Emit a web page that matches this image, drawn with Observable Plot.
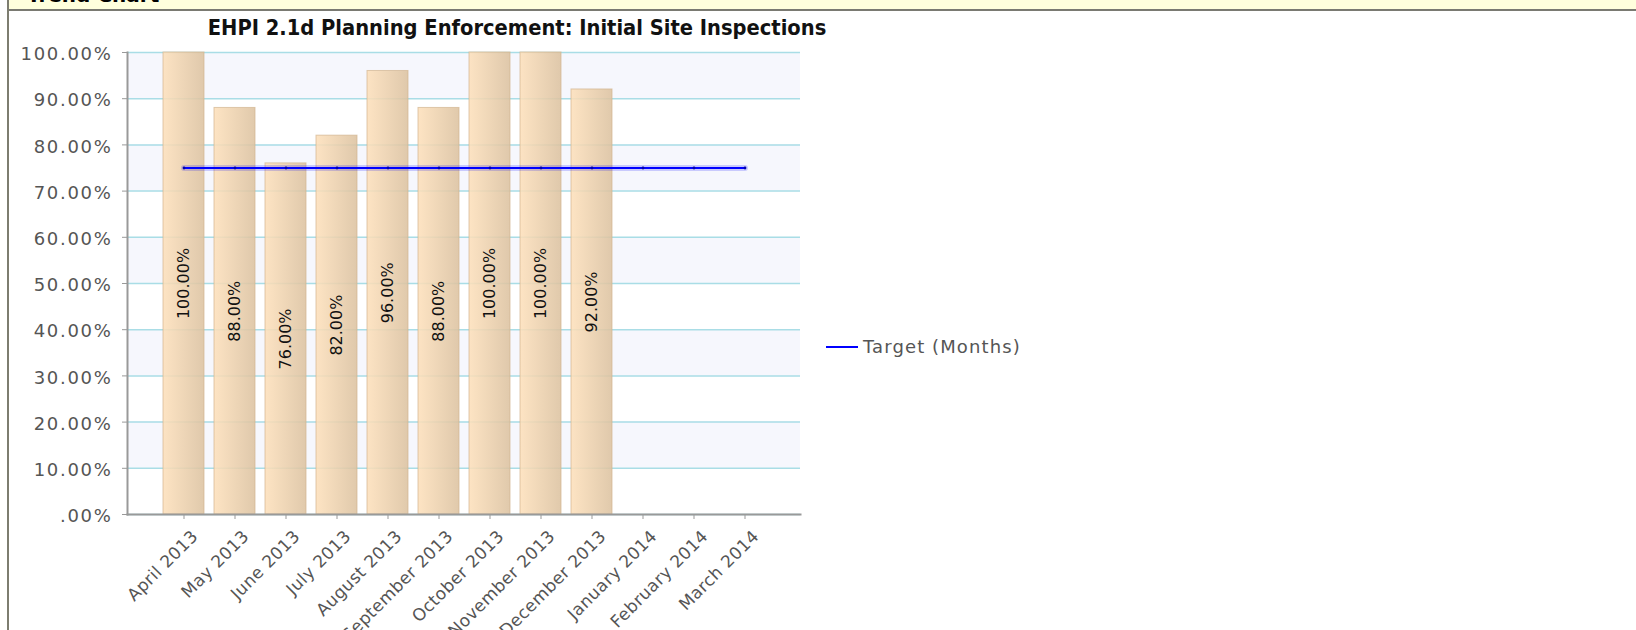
<!DOCTYPE html>
<html>
<head>
<meta charset="utf-8">
<script src="https://cdn.jsdelivr.net/npm/d3@7"></script>
<script src="https://cdn.jsdelivr.net/npm/@observablehq/plot@0.6"></script>
<style>
  html, body { margin: 0; padding: 0; background: #fff; }
  body { width: 1636px; height: 630px; overflow: hidden; position: relative; font-family: "DejaVu Sans", sans-serif; }
  #chart { position: absolute; left: 0; top: 0; }
  #header { position: absolute; left: 9px; top: 0; right: 0; height: 9px; background: #ffffdd; border-bottom: 2px solid #7a7a72; overflow: hidden; z-index: 2; }
  #header span { position: absolute; left: 18px; top: -17px; font: bold 20px "DejaVu Sans", sans-serif; color: #000; white-space: nowrap; }
  #border { position: absolute; left: 7px; top: 0; width: 2px; height: 630px; background: #7d7d70; z-index: 3; }
  #title { position: absolute; left: 0; width: 1034px; top: 15px; line-height: 26px; text-align: center; font-family: "DejaVu Sans Condensed", "DejaVu Sans", sans-serif; font-weight: bold; font-size: 21.7px; color: #111; white-space: nowrap; z-index: 2; }
  #legend { position: absolute; left: 826px; top: 336px; height: 22px; line-height: 22px; font-size: 18px; letter-spacing: 1.1px; color: #555; white-space: nowrap; z-index: 2; }
  #legend .sw { display: inline-block; width: 32px; height: 2px; background: #0000ff; vertical-align: middle; margin-right: 5px; position: relative; top: -1px; }
  #chart g[aria-label="y-axis tick label"] text { letter-spacing: 1.7px; }
  #chart g[aria-label="x-axis tick label"] text { letter-spacing: 0.4px; }
</style>
</head>
<body>
<div id="border"></div>
<div id="header"><span>Trend Chart</span></div>
<div id="title">EHPI 2.1d Planning Enforcement: Initial Site Inspections</div>
<div id="chart"></div>
<div id="legend"><span class="sw"></span><span>Target (Months)</span></div>
<script>
// ---- data ----
const months = ["April 2013", "May 2013", "June 2013", "July 2013", "August 2013", "September 2013",
                "October 2013", "November 2013", "December 2013", "January 2014", "February 2014", "March 2014"];
const rates = [100, 88, 76, 82, 96, 88, 100, 100, 92, null, null, null];
const targets = [75, 75, 75, 75, 75, 75, 75, 75, 75, 75, 75, 75];
const yTicks = [0, 10, 20, 30, 40, 50, 60, 70, 80, 90, 100];

// ---- derived tables ----
const rows = months.map((m, i) => ({ month: m, rate: rates[i], target: targets[i] }));
const bars = rows.filter(d => d.rate != null);
const bands = yTicks.slice(0, -1)
  .map((t, i) => ({ y1: t, y2: yTicks[i + 1], i }))
  .filter(d => d.i % 2 === 1);

const fmtY = d => d === 0 ? ".00%" : d.toFixed(2) + "%";
const fmtBar = d => d.toFixed(2) + "%";

const defs = () => {
  const g = document.createElementNS("http://www.w3.org/2000/svg", "defs");
  g.innerHTML = '<linearGradient id="barGrad" x1="0" x2="1" y1="0" y2="0">' +
    '<stop offset="0" stop-color="#fde0bb"/><stop offset="1" stop-color="#dcc2a0"/></linearGradient>';
  return g;
};

const plot = Plot.plot({
  width: 1636,
  height: 630,
  marginLeft: 127,
  marginRight: 836,
  marginTop: 52,
  marginBottom: 116,
  style: { fontFamily: "DejaVu Sans, sans-serif", fontSize: "17px", color: "#555", background: "transparent", overflow: "visible" },
  x: { type: "band", domain: months, paddingInner: 0.2, paddingOuter: 0.62 },
  y: { domain: [0, 100] },
  marks: [
    defs,
    Plot.rect(bands, { y1: "y1", y2: "y2", fill: "#f6f7fd" }),
    Plot.ruleY(yTicks, { stroke: "#a9dde6", strokeWidth: 1.5 }),
    Plot.barY(bars, { x: "month", y: "rate", fill: "url(#barGrad)", fillOpacity: 0.88, stroke: "#d2b590", strokeOpacity: 0.7, strokeWidth: 1 }),
    Plot.text(bars, { x: "month", y: d => d.rate / 2, text: d => fmtBar(d.rate), rotate: -90, fontSize: 16, fill: "#111" }),
    Plot.line(rows, { x: "month", y: "target", stroke: "#0000ff", strokeWidth: 6, strokeOpacity: 0.18 }),
    Plot.line(rows, { x: "month", y: "target", stroke: "#0000ff", strokeWidth: 2.2 }),
    Plot.dot(rows, { x: "month", y: "target", r: 1.4, fill: "#0000b0" }),
    Plot.axisY({ ticks: yTicks, tickSize: 5, stroke: "#999", fill: "none", label: null }),
    Plot.axisY({ ticks: yTicks, tickSize: 0, tickPadding: 15, tickFormat: fmtY, fill: "#555", fontSize: 18, dy: 2, label: null }),
    Plot.axisX({ tickSize: 5, stroke: "#999", fill: "none", label: null }),
    Plot.axisX({ tickSize: 0, tickPadding: 0, tickRotate: -45, fill: "#555", fontSize: 17, dx: 11, dy: 19, label: null }),
    Plot.frame({ anchor: "left", stroke: "#999", strokeWidth: 2 }),
    Plot.frame({ anchor: "bottom", stroke: "#999", strokeWidth: 2 })
  ]
});
document.getElementById("chart").appendChild(plot);
</script>
</body>
</html>
